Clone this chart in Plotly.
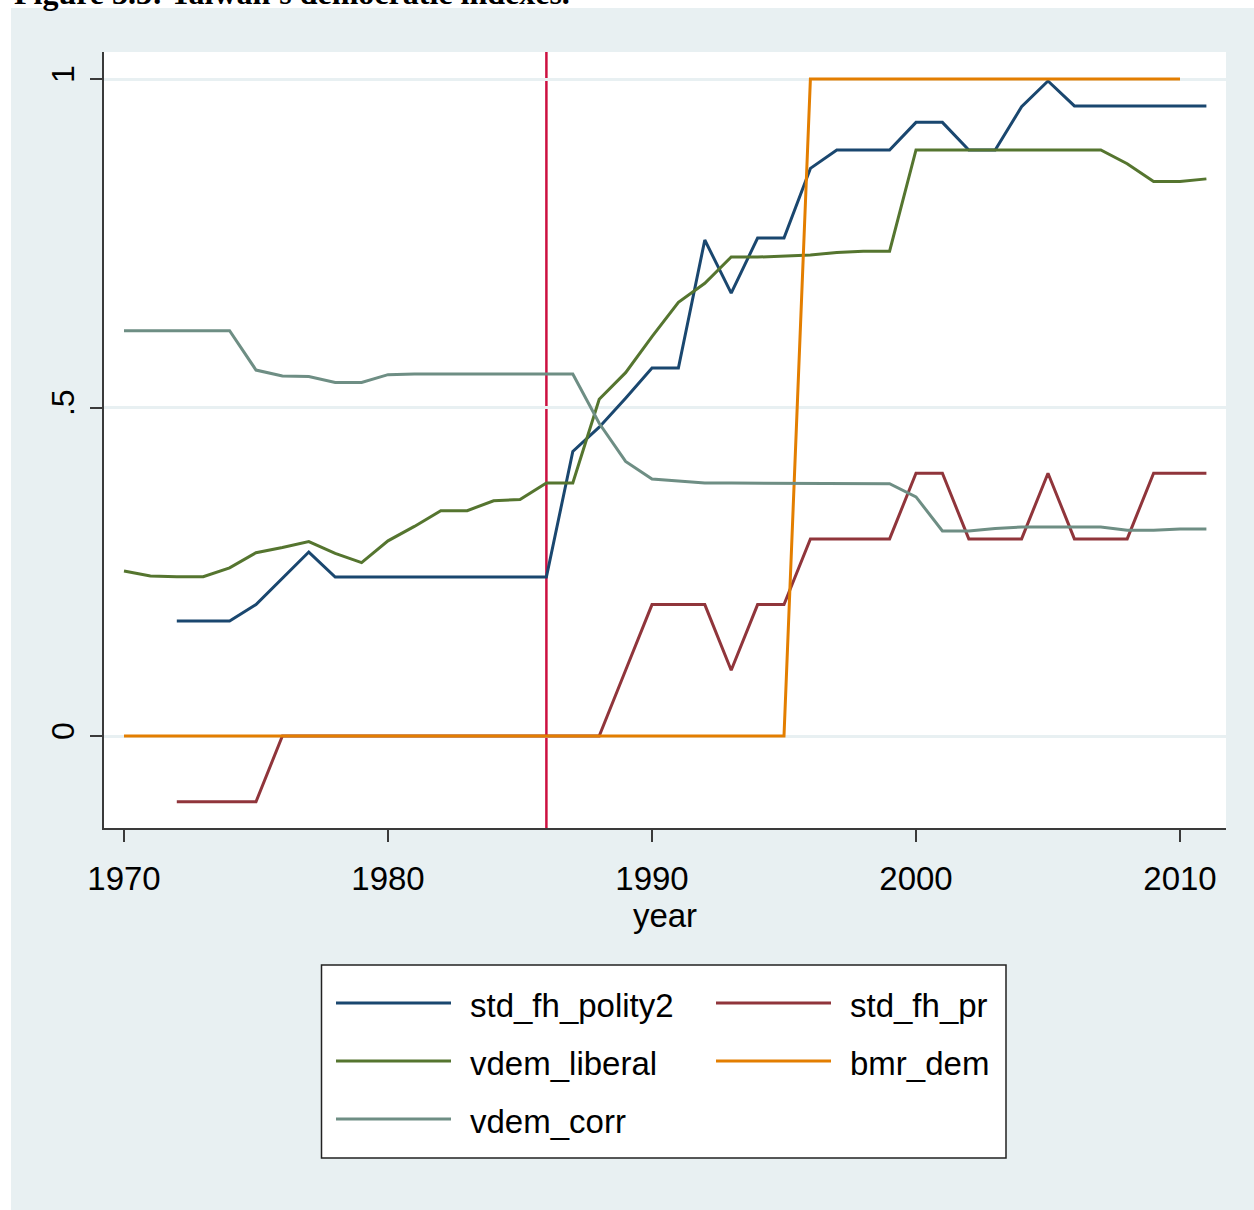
import plotly.graph_objects as go

# ---- data -------------------------------------------------------------
years = list(range(1970, 2012))

std_fh_polity2 = [None, None,
                  0.175, 0.175, 0.175, 0.200, 0.240, 0.280, 0.242, 0.242,
                  0.242, 0.242, 0.242, 0.242, 0.242, 0.242, 0.242, 0.433,
                  0.470, 0.514, 0.560, 0.560, 0.755, 0.674, 0.758, 0.758,
                  0.864, 0.892, 0.892, 0.892, 0.934, 0.934, 0.892, 0.892,
                  0.958, 0.997, 0.959, 0.959, 0.959, 0.959, 0.959, 0.959]

std_fh_pr = [None, None,
             -0.1, -0.1, -0.1, -0.1, 0.0, 0.0, 0.0, 0.0,
             0.0, 0.0, 0.0, 0.0, 0.0, 0.0, 0.0, 0.0,
             0.0, 0.1, 0.2, 0.2, 0.2, 0.1, 0.2, 0.2,
             0.3, 0.3, 0.3, 0.3, 0.4, 0.4, 0.3, 0.3,
             0.3, 0.4, 0.3, 0.3, 0.3, 0.4, 0.4, 0.4]

vdem_liberal = [0.251, 0.2435,
                0.2425, 0.2425, 0.256, 0.279, 0.287, 0.296, 0.278, 0.264,
                0.297, 0.319, 0.343, 0.343, 0.358, 0.360, 0.385, 0.385,
                0.5125, 0.553, 0.608, 0.660, 0.689, 0.729, 0.729, 0.730,
                0.732, 0.736, 0.738, 0.738, 0.892, 0.892, 0.892, 0.892,
                0.892, 0.892, 0.892, 0.892, 0.871, 0.844, 0.844, 0.848]

bmr_dem = [0] * 26 + [1] * 15 + [None]

vdem_corr = [0.617, 0.617,
             0.617, 0.617, 0.617, 0.557, 0.548, 0.547, 0.538, 0.538,
             0.550, 0.551, 0.551, 0.551, 0.551, 0.551, 0.551, 0.551,
             0.476, 0.418, 0.391, 0.388, 0.385, 0.385, 0.385, 0.385,
             0.385, 0.385, 0.385, 0.384, 0.364, 0.312, 0.312, 0.316,
             0.318, 0.318, 0.318, 0.318, 0.313, 0.313, 0.315, 0.315]

series_names = ["std_fh_polity2", "std_fh_pr", "vdem_liberal", "bmr_dem", "vdem_corr"]
series_values = [std_fh_polity2, std_fh_pr, vdem_liberal, bmr_dem, vdem_corr]
series_colors = ["#1A476F", "#90353B", "#55752F", "#E37E00", "#6E8E84"]

reference_year = 1986

x_ticks = [1970, 1980, 1990, 2000, 2010]
y_ticks = [0, 0.5, 1]
y_tick_text = ["0", ".5", "1"]

# ---- geometry (pixels) ------------------------------------------------
W, H = 1254, 1210
ML, MR, MT, MB = 104, 28, 52, 382
PW, PH = W - ML - MR, H - MT - MB

BG = "#E8F0F2"
AXIS = "#3A3A3A"
SANS = "Liberation Sans, Arial, sans-serif"
TXT = 33


def px_x(p):
    return (p - ML) / PW


def px_y(p):
    return (H - MB - p) / PH


fig = go.Figure()

for name, vals, color in zip(series_names, series_values, series_colors):
    fig.add_trace(go.Scatter(
        x=years, y=vals, mode="lines", name=name,
        line=dict(color=color, width=3), showlegend=False,
        hoverinfo="skip",
    ))

shapes = []
# white page strips around the grey-blue graph region
shapes.append(dict(type="rect", xref="paper", yref="paper",
                   x0=px_x(-5), x1=px_x(11), y0=px_y(H + 5), y1=px_y(-5),
                   fillcolor="white", line=dict(width=0), layer="below"))
shapes.append(dict(type="rect", xref="paper", yref="paper",
                   x0=px_x(-5), x1=px_x(W + 5), y0=px_y(8), y1=px_y(-5),
                   fillcolor="white", line=dict(width=0), layer="below"))

# vertical reference line
shapes.append(dict(type="line", xref="x", yref="paper",
                   x0=reference_year, x1=reference_year, y0=0, y1=1,
                   line=dict(color="#CC1040", width=2.5), layer="below"))

# legend box
lg_x0, lg_y0, lg_x1, lg_y1 = 321.5, 965, 1006, 1158
shapes.append(dict(type="rect", xref="paper", yref="paper",
                   x0=px_x(lg_x0), x1=px_x(lg_x1), y0=px_y(lg_y1), y1=px_y(lg_y0),
                   fillcolor="white", line=dict(color="#222222", width=1.5),
                   layer="below"))

legend_cols = [336, 716]
legend_rows = [1003, 1061, 1119]
annotations = []
for i, (name, color) in enumerate(zip(series_names, series_colors)):
    cx = legend_cols[i % 2]
    cy = legend_rows[i // 2]
    shapes.append(dict(type="line", xref="paper", yref="paper",
                       x0=px_x(cx), x1=px_x(cx + 115), y0=px_y(cy), y1=px_y(cy),
                       line=dict(color=color, width=3), layer="above"))
    annotations.append(dict(xref="paper", yref="paper",
                            x=px_x(cx + 132), y=px_y(cy + 2),
                            xanchor="left", yanchor="middle", showarrow=False,
                            text=name, font=dict(family=SANS, size=TXT, color="black")))

# heading of the figure, partly above the page edge
annotations.append(dict(xref="paper", yref="paper",
                        x=px_x(12), y=px_y(13), xanchor="left", yanchor="bottom",
                        showarrow=False,
                        text="<b>Figure 3.3: Taiwan's democratic indexes.</b>",
                        font=dict(family="Liberation Serif, Times New Roman, serif",
                                  size=32, color="black")))

fig.update_layout(
    width=W, height=H,
    margin=dict(l=ML, r=MR, t=MT, b=MB, pad=0),
    paper_bgcolor=BG, plot_bgcolor="white",
    shapes=shapes, annotations=annotations,
    showlegend=False,
    xaxis=dict(
        range=[1969.2424, 2011.7424], tickvals=x_ticks,
        ticks="outside", ticklen=12, tickwidth=1.5, tickcolor=AXIS,
        showline=True, linecolor=AXIS, linewidth=2,
        showgrid=False, zeroline=False,
        tickfont=dict(family=SANS, size=TXT, color="black"),
        ticklabelstandoff=8,
        title=dict(text="year", font=dict(family=SANS, size=TXT, color="black"),
                   standoff=2),
    ),
    yaxis=dict(
        range=[-0.14003, 1.0411], tickvals=y_ticks, ticktext=y_tick_text,
        tickangle=-90,
        ticks="outside", ticklen=12, tickwidth=1.5, tickcolor=AXIS,
        showline=True, linecolor=AXIS, linewidth=2,
        showgrid=True, gridcolor=BG, gridwidth=3, zeroline=False,
        tickfont=dict(family=SANS, size=32, color="black"),
        ticklabelstandoff=3,
    ),
)

fig.write_html("out.html")
